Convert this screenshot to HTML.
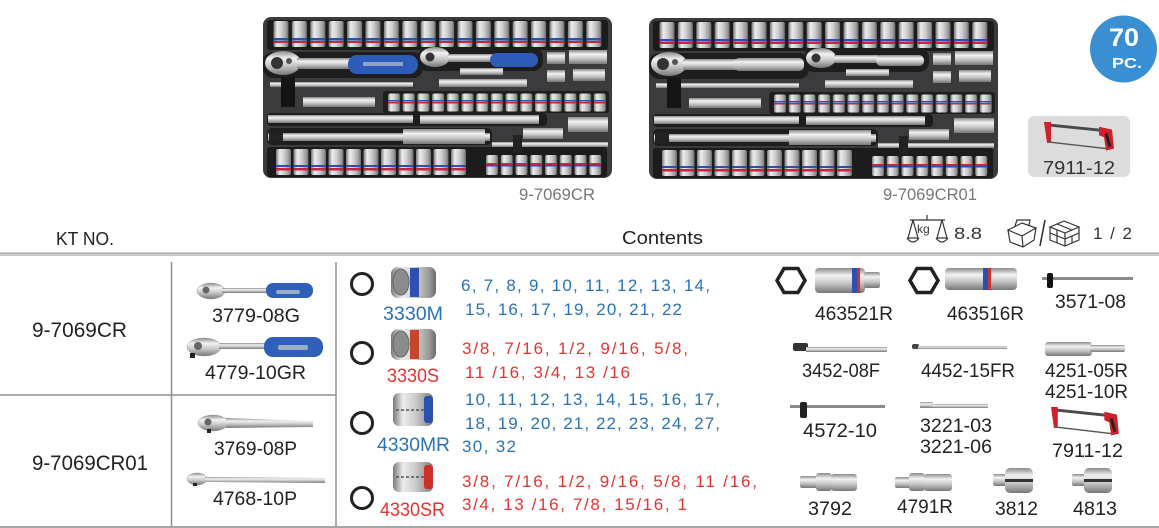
<!DOCTYPE html>
<html><head><meta charset="utf-8"><style>
html,body{margin:0;padding:0;background:#fff;}
svg{display:block;font-family:"Liberation Sans",sans-serif;}
</style></head><body>
<svg width="1159" height="528" viewBox="0 0 1159 528" xmlns="http://www.w3.org/2000/svg">
<defs>
<linearGradient id="silv" x1="0" y1="0" x2="1" y2="0">
<stop offset="0" stop-color="#7a7a7a"/><stop offset="0.25" stop-color="#ececec"/><stop offset="0.55" stop-color="#cdcdcd"/><stop offset="0.85" stop-color="#9a9a9a"/><stop offset="1" stop-color="#6a6a6a"/>
</linearGradient>
<linearGradient id="silvv" x1="0" y1="0" x2="0" y2="1">
<stop offset="0" stop-color="#8a8a8a"/><stop offset="0.3" stop-color="#f2f2f2"/><stop offset="0.6" stop-color="#c8c8c8"/><stop offset="1" stop-color="#777"/>
</linearGradient>
<pattern id="ps1" x="9" y="3" width="18.4" height="28" patternUnits="userSpaceOnUse">
<rect x="1.5" y="1" width="15" height="26" rx="2" fill="url(#silv)"/>
<rect x="1.5" y="18" width="15" height="2.5" fill="#2a4fb0"/>
<rect x="1.5" y="21" width="15" height="2" fill="#c2273a"/>
</pattern>
<pattern id="ps2" x="12" y="131" width="17.5" height="28" patternUnits="userSpaceOnUse">
<rect x="1" y="1" width="15" height="26" rx="2" fill="url(#silv)"/>
<rect x="1" y="17" width="15" height="2" fill="#2a4fb0"/>
<rect x="1" y="20" width="15" height="2.5" fill="#c2273a"/>
</pattern>
<pattern id="ps3" x="222" y="137" width="14.75" height="22" patternUnits="userSpaceOnUse">
<rect x="1" y="1" width="12" height="20" rx="2" fill="url(#silv)"/>
<rect x="1" y="9" width="12" height="2" fill="#c2273a"/>
<rect x="1" y="11" width="12" height="1.5" fill="#2a4fb0"/>
</pattern>
<pattern id="ps4" x="124" y="76" width="14.7" height="19" patternUnits="userSpaceOnUse">
<rect x="1" y="0.5" width="12" height="18" rx="2" fill="url(#silv)"/>
<rect x="1" y="7" width="12" height="1.5" fill="#2a4fb0"/>
<rect x="1" y="9" width="12" height="1.5" fill="#c2273a"/>
</pattern>
<g id="trayBase">
<rect x="0" y="0" width="349" height="161" rx="8" fill="#3b3b3d"/>
<rect x="4" y="3" width="341" height="30" rx="3" fill="#1c1c1d"/>
<rect x="4" y="130" width="340" height="30" rx="3" fill="#1c1c1d"/>
<rect x="0" y="35" width="160" height="26" rx="10" fill="#1e1e1f"/>
<rect x="155" y="30" width="125" height="24" rx="10" fill="#1e1e1f"/>
<rect x="120" y="74" width="226" height="22" rx="3" fill="#1e1e1f"/>
<rect x="4" y="96" width="280" height="13" rx="4" fill="#1e1e1f"/>
<rect x="4" y="111" width="225" height="17" rx="5" fill="#1e1e1f"/>
<rect x="9" y="3" width="331" height="28" fill="url(#ps1)"/>
<rect x="12" y="131" width="193" height="28" fill="url(#ps2)"/>
<rect x="222" y="137" width="118" height="22" fill="url(#ps3)"/>
<rect x="124" y="76" width="220" height="19" fill="url(#ps4)"/>
<!-- ratchet heads -->
<ellipse cx="20" cy="46" rx="18" ry="12" fill="url(#silvv)"/>
<circle cx="14" cy="46" r="6" fill="#333"/>
<circle cx="26" cy="44" r="3" fill="#555"/>
<rect x="34" y="41" width="55" height="11" fill="url(#silvv)"/>
<ellipse cx="172" cy="40" rx="15" ry="10" fill="url(#silvv)"/>
<circle cx="167" cy="40" r="4.5" fill="#333"/>
<rect x="185" y="37" width="45" height="8" fill="url(#silvv)"/>
<!-- extensions -->
<rect x="197" y="51" width="43" height="7" fill="url(#silvv)"/>
<rect x="7" y="65" width="143" height="5" fill="url(#silvv)"/>
<rect x="18" y="60" width="14" height="30" fill="#151515"/>
<rect x="176" y="62" width="88" height="8" fill="url(#silvv)"/>
<rect x="40" y="80" width="72" height="10" fill="url(#silvv)"/>
<rect x="5" y="98" width="145" height="8" fill="url(#silvv)"/>
<rect x="157" y="98" width="119" height="9" fill="url(#silvv)"/>
<rect x="5" y="116" width="222" height="8" fill="url(#silvv)"/>
<rect x="140" y="112" width="82" height="15" fill="url(#silvv)"/>
<rect x="6" y="114" width="14" height="12" fill="#222"/>
<rect x="260" y="111" width="40" height="11" fill="url(#silvv)"/>
<rect x="229" y="125" width="116" height="5" fill="url(#silvv)"/>
<rect x="250" y="118" width="9" height="18" fill="#222"/>
<rect x="305" y="100" width="40" height="15" fill="url(#silvv)"/>
<!-- small adapters -->
<rect x="284" y="35" width="18" height="12" fill="url(#silvv)"/>
<rect x="306" y="33" width="38" height="14" fill="url(#silvv)"/>
<rect x="284" y="53" width="18" height="12" fill="url(#silvv)"/>
<rect x="310" y="52" width="32" height="12" fill="url(#silvv)"/>
</g>
<g id="saw">
<line x1="3" y1="3" x2="60" y2="9" stroke="#4a4a4a" stroke-width="3"/>
<polygon points="0,0 7,0 7,22 3,22" fill="#d0202a"/>
<polygon points="55,5 68,8 70,28 62,30 60,16 55,14" fill="#d0202a"/>
<line x1="62" y1="12" x2="66" y2="26" stroke="#222" stroke-width="3"/>
<line x1="4" y1="21" x2="62" y2="28" stroke="#555" stroke-width="1.5"/>
</g>
</defs>

<!-- Trays -->
<g transform="translate(263,17)">
<use href="#trayBase"/>
<rect x="85" y="38" width="70" height="19" rx="9" fill="#2d5cb8"/>
<rect x="100" y="45" width="40" height="4" fill="#8fa3c8"/>
<rect x="227" y="36" width="48" height="14" rx="7" fill="#2d5cb8"/>
</g>
<g transform="translate(649,18)">
<use href="#trayBase"/>
<rect x="85" y="40" width="70" height="13" rx="5" fill="url(#silvv)"/>
<rect x="227" y="37" width="48" height="11" rx="5" fill="url(#silvv)"/>
</g>
<text x="519" y="200" font-size="17" fill="#777" textLength="76" lengthAdjust="spacingAndGlyphs">9-7069CR</text>
<text x="883" y="200" font-size="17" fill="#777" textLength="94" lengthAdjust="spacingAndGlyphs">9-7069CR01</text>

<!-- badge -->
<circle cx="1123.5" cy="49" r="33.5" fill="#3a8fd3"/>
<text x="1109" y="46" font-size="25" font-weight="bold" fill="#fff" textLength="30" lengthAdjust="spacingAndGlyphs">70</text>
<text x="1112" y="68" font-size="15" font-weight="bold" fill="#fff" textLength="30" lengthAdjust="spacingAndGlyphs">PC.</text>

<!-- saw box -->
<rect x="1028" y="116" width="102" height="61" rx="6" fill="#dcdcdc"/>
<use href="#saw" transform="translate(1044,122) scale(1.0,0.95)"/>
<text x="1043" y="174" font-size="18" fill="#333" textLength="72" lengthAdjust="spacingAndGlyphs">7911-12</text>

<!-- header -->
<text x="56" y="245" font-size="18" fill="#222" textLength="58" lengthAdjust="spacingAndGlyphs">KT NO.</text>
<text x="622" y="244" font-size="18" fill="#222" textLength="81" lengthAdjust="spacingAndGlyphs">Contents</text>
<!-- kg icon -->
<g stroke="#333" stroke-width="1.2" fill="none">
<line x1="910" y1="220" x2="945" y2="220"/>
<line x1="927" y1="215" x2="927" y2="220"/>
<polyline points="913,220 908,238 918,238 913,220"/>
<polyline points="942,220 937,238 947,238 942,220"/>
<path d="M907,238 Q913,246 919,238"/>
<path d="M936,238 Q942,246 948,238"/>
</g>
<text x="917" y="233" font-size="12" fill="#333">kg</text>
<text x="954" y="239" font-size="17" fill="#333" textLength="28" lengthAdjust="spacingAndGlyphs">8.8</text>
<!-- box icons -->
<g stroke="#333" stroke-width="1.2" fill="none">
<polygon points="1008,230 1022,236 1036,228 1022,223"/>
<polyline points="1008,230 1010,242 1023,247 1034,240 1036,228"/>
<line x1="1022" y1="236" x2="1023" y2="247"/>
<polyline points="1015,226 1017,220 1030,220 1029,225"/>
<line x1="1045" y1="220" x2="1040" y2="246" stroke-width="1.6"/>
<polygon points="1050,227 1064,221 1079,227 1065,233"/>
<polyline points="1050,227 1050,240 1065,246 1079,240 1079,227"/>
<line x1="1065" y1="233" x2="1065" y2="246"/>
<line x1="1057" y1="224" x2="1072" y2="230"/>
<polyline points="1050,233 1065,239 1079,233"/>
<line x1="1057" y1="230" x2="1057" y2="243"/>
<line x1="1072" y1="236" x2="1072" y2="243"/>
</g>
<text x="1093" y="239" font-size="17" fill="#333" textLength="39" lengthAdjust="spacing">1 / 2</text>

<!-- table lines -->
<rect x="0" y="252" width="1159" height="4" fill="#cbcbcb"/>
<rect x="0" y="253" width="1159" height="1" fill="#b5b5b5"/>
<line x1="171.5" y1="262" x2="171.5" y2="528" stroke="#8f8f8f" stroke-width="1.5"/>
<line x1="336" y1="262" x2="336" y2="528" stroke="#8f8f8f" stroke-width="1.5"/>
<line x1="0" y1="395" x2="336" y2="395" stroke="#8f8f8f" stroke-width="1.5"/>
<line x1="0" y1="527" x2="1159" y2="527" stroke="#a5a5a5" stroke-width="2"/>

<!-- KT NO column -->
<text x="32" y="337" font-size="21" fill="#222" textLength="95" lengthAdjust="spacingAndGlyphs">9-7069CR</text>
<text x="32" y="470" font-size="21" fill="#222" textLength="116" lengthAdjust="spacingAndGlyphs">9-7069CR01</text>

<!-- ratchets column -->
<ellipse cx="211" cy="291" rx="14" ry="8" fill="url(#silvv)" stroke="#999" stroke-width="0.5"/>
<circle cx="206" cy="290" r="3.5" fill="#666"/>
<rect x="222" y="288" width="48" height="5" fill="url(#silvv)"/>
<rect x="266" y="283" width="47" height="15" rx="7" fill="#2f5fb8"/>
<rect x="276" y="290" width="24" height="4" rx="2" fill="#9aabc8"/>
<text x="212" y="322" font-size="19" fill="#222" textLength="88" lengthAdjust="spacingAndGlyphs">3779-08G</text>

<ellipse cx="204" cy="347" rx="17" ry="9" fill="url(#silvv)" stroke="#999" stroke-width="0.5"/>
<circle cx="198" cy="346" r="4" fill="#666"/>
<rect x="190" y="353" width="5" height="5" fill="#222"/>
<rect x="219" y="343" width="50" height="6" fill="url(#silvv)"/>
<rect x="264" y="337" width="59" height="20" rx="9" fill="#2f5fb8"/>
<rect x="278" y="345" width="30" height="5" rx="2" fill="#9aabc8"/>
<text x="205" y="379" font-size="19" fill="#222" textLength="101" lengthAdjust="spacingAndGlyphs">4779-10GR</text>

<ellipse cx="213" cy="423" rx="15" ry="8" fill="url(#silvv)" stroke="#999" stroke-width="0.5"/>
<circle cx="208" cy="422" r="3.5" fill="#666"/>
<rect x="207" y="429" width="4" height="4" fill="#222"/>
<polygon points="226,418 313,421 313,427 226,428" fill="url(#silvv)"/>
<text x="214" y="455" font-size="19" fill="#222" textLength="83" lengthAdjust="spacingAndGlyphs">3769-08P</text>

<ellipse cx="197" cy="479" rx="10" ry="6" fill="url(#silvv)" stroke="#999" stroke-width="0.5"/>
<rect x="193" y="483" width="4" height="3" fill="#222"/>
<polygon points="205,477 325,478 325,483 205,482" fill="url(#silvv)"/>
<text x="213" y="505" font-size="19" fill="#222" textLength="84" lengthAdjust="spacingAndGlyphs">4768-10P</text>

<!-- 12 point circles -->
<g fill="none" stroke="#222" stroke-width="3">
<circle cx="362" cy="284" r="10.5"/>
<circle cx="362" cy="353" r="10.5"/>
<circle cx="362" cy="423" r="10.5"/>
<circle cx="362" cy="498" r="10.5"/>
</g>

<!-- socket images middle -->
<rect x="391" y="267" width="45" height="31" rx="7" fill="url(#silv)"/>
<ellipse cx="401" cy="282" rx="8" ry="13" fill="#8c8c8c" stroke="#666"/>
<rect x="410" y="268" width="9" height="29" fill="#2d4fb0"/>
<rect x="391" y="329" width="45" height="31" rx="7" fill="url(#silv)"/>
<ellipse cx="401" cy="344" rx="8" ry="13" fill="#8c8c8c" stroke="#666"/>
<rect x="410" y="330" width="9" height="29" fill="#c6452c"/>
<rect x="393" y="393" width="40" height="33" rx="6" fill="url(#silv)"/>
<line x1="396" y1="410" x2="424" y2="410" stroke="#555" stroke-width="1.5" stroke-dasharray="3,2"/>
<rect x="424" y="396" width="9" height="27" rx="3" fill="#2d4fb0"/>
<rect x="393" y="462" width="40" height="30" rx="6" fill="url(#silv)"/>
<line x1="396" y1="477" x2="424" y2="477" stroke="#555" stroke-width="1.5" stroke-dasharray="3,2"/>
<rect x="424" y="465" width="9" height="24" rx="3" fill="#d0302a"/>

<text x="383" y="320" font-size="19" fill="#2a72b6" textLength="60" lengthAdjust="spacingAndGlyphs">3330M</text>
<text x="387" y="382" font-size="19" fill="#e3342f" textLength="52" lengthAdjust="spacingAndGlyphs">3330S</text>
<text x="377" y="451" font-size="19" fill="#2a72b6" textLength="73" lengthAdjust="spacingAndGlyphs">4330MR</text>
<text x="380" y="516" font-size="19" fill="#e3342f" textLength="65" lengthAdjust="spacingAndGlyphs">4330SR</text>

<!-- size lists -->
<g font-size="17">
<text x="461" y="291" fill="#2a72b6" textLength="249" lengthAdjust="spacing">6, 7, 8, 9, 10, 11, 12, 13, 14,</text>
<text x="465" y="315" fill="#2a72b6" textLength="217" lengthAdjust="spacing">15, 16, 17, 19, 20, 21, 22</text>
<text x="462" y="354" fill="#e3342f" textLength="226" lengthAdjust="spacing">3/8, 7/16, 1/2, 9/16, 5/8,</text>
<text x="465" y="378" fill="#e3342f" textLength="165" lengthAdjust="spacing">11 /16, 3/4, 13 /16</text>
<text x="465" y="405" fill="#2a72b6" textLength="255" lengthAdjust="spacing">10, 11, 12, 13, 14, 15, 16, 17,</text>
<text x="465" y="429" fill="#2a72b6" textLength="255" lengthAdjust="spacing">18, 19, 20, 21, 22, 23, 24, 27,</text>
<text x="462" y="452" fill="#2a72b6" textLength="54" lengthAdjust="spacing">30, 32</text>
<text x="462" y="487" fill="#e3342f" textLength="295" lengthAdjust="spacing">3/8, 7/16, 1/2, 9/16, 5/8, 11 /16,</text>
<text x="462" y="510" fill="#e3342f" textLength="225" lengthAdjust="spacing">3/4, 13 /16, 7/8, 15/16, 1</text>
</g>

<!-- right tools -->
<polygon points="784,268.5 798,268.5 805,280.5 798,292.5 784,292.5 777,280.5" fill="none" stroke="#222" stroke-width="3.5"/>
<polygon points="917,268.5 931,268.5 938,280.5 931,292.5 917,292.5 910,280.5" fill="none" stroke="#222" stroke-width="3.5"/>
<rect x="815" y="268" width="50" height="25" rx="4" fill="url(#silvv)"/>
<rect x="852" y="268" width="5" height="25" fill="#2d4fb0"/>
<rect x="857" y="268" width="3" height="25" fill="#d0302a"/>
<rect x="864" y="272" width="16" height="16" rx="2" fill="url(#silvv)"/>
<rect x="945" y="268" width="72" height="22" rx="4" fill="url(#silvv)"/>
<rect x="983" y="268" width="5" height="22" fill="#2d4fb0"/>
<rect x="988" y="268" width="3" height="22" fill="#d0302a"/>
<rect x="1042" y="277" width="91" height="3" fill="#8a8a8a"/>
<rect x="1047" y="273" width="6" height="15" rx="2" fill="#111"/>

<rect x="793" y="343" width="15" height="8" rx="2" fill="#333"/>
<rect x="806" y="347" width="81" height="5" fill="url(#silvv)"/>
<rect x="912" y="344" width="7" height="5" rx="2" fill="#444"/>
<rect x="918" y="346" width="89" height="3" fill="url(#silvv)"/>
<rect x="1045" y="342" width="47" height="14" rx="3" fill="url(#silvv)"/>
<rect x="1090" y="345" width="35" height="7" rx="2" fill="url(#silvv)"/>

<rect x="790" y="405" width="95" height="3" fill="#8a8a8a"/>
<rect x="800" y="402" width="7" height="16" rx="2" fill="#222"/>
<rect x="920" y="402" width="13" height="6" fill="url(#silvv)"/>
<rect x="932" y="404" width="56" height="4" fill="url(#silvv)"/>
<use href="#saw" transform="translate(1051,407) scale(0.97,0.95)"/>

<rect x="800" y="476" width="18" height="12" rx="2" fill="url(#silvv)"/>
<rect x="816" y="473" width="16" height="18" rx="3" fill="url(#silvv)"/>
<rect x="831" y="474" width="26" height="17" rx="3" fill="url(#silvv)"/>
<rect x="895" y="477" width="16" height="11" rx="2" fill="url(#silvv)"/>
<rect x="909" y="473" width="16" height="18" rx="3" fill="url(#silvv)"/>
<rect x="924" y="474" width="28" height="17" rx="3" fill="url(#silvv)"/>
<rect x="993" y="474" width="14" height="12" rx="2" fill="url(#silvv)"/>
<rect x="1005" y="468" width="28" height="25" rx="5" fill="url(#silvv)"/>
<rect x="1005" y="479" width="28" height="3" fill="#333"/>
<rect x="1072" y="474" width="14" height="12" rx="2" fill="url(#silvv)"/>
<rect x="1084" y="468" width="28" height="25" rx="5" fill="url(#silvv)"/>
<rect x="1084" y="479" width="28" height="3" fill="#333"/>

<g font-size="19" fill="#222">
<text x="815" y="320" textLength="78" lengthAdjust="spacingAndGlyphs">463521R</text>
<text x="947" y="320" textLength="77" lengthAdjust="spacingAndGlyphs">463516R</text>
<text x="1055" y="308" textLength="71" lengthAdjust="spacingAndGlyphs">3571-08</text>
<text x="802" y="377" textLength="78" lengthAdjust="spacingAndGlyphs">3452-08F</text>
<text x="921" y="377" textLength="94" lengthAdjust="spacingAndGlyphs">4452-15FR</text>
<text x="1045" y="377" textLength="83" lengthAdjust="spacingAndGlyphs">4251-05R</text>
<text x="1045" y="398" textLength="83" lengthAdjust="spacingAndGlyphs">4251-10R</text>
<text x="803" y="437" textLength="74" lengthAdjust="spacingAndGlyphs">4572-10</text>
<text x="920" y="432" textLength="72" lengthAdjust="spacingAndGlyphs">3221-03</text>
<text x="920" y="453" textLength="72" lengthAdjust="spacingAndGlyphs">3221-06</text>
<text x="1052" y="457" textLength="71" lengthAdjust="spacingAndGlyphs">7911-12</text>
<text x="808" y="515" textLength="44" lengthAdjust="spacingAndGlyphs">3792</text>
<text x="897" y="513" textLength="56" lengthAdjust="spacingAndGlyphs">4791R</text>
<text x="995" y="515" textLength="43" lengthAdjust="spacingAndGlyphs">3812</text>
<text x="1073" y="515" textLength="44" lengthAdjust="spacingAndGlyphs">4813</text>
</g>
</svg>
</body></html>
